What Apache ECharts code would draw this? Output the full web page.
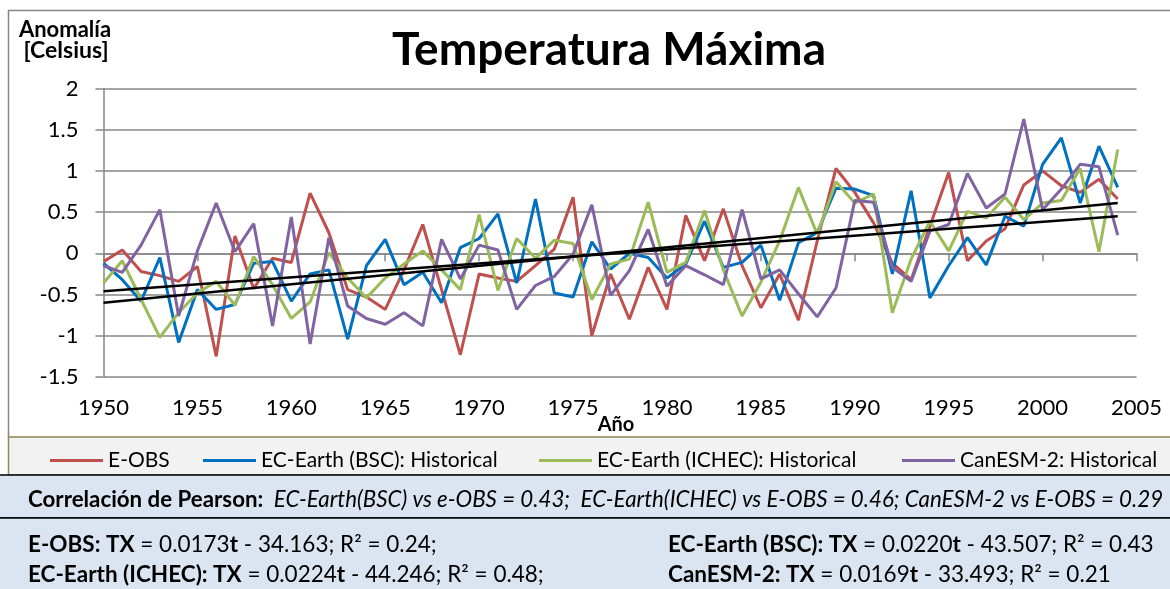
<!DOCTYPE html>
<html>
<head>
<meta charset="utf-8">
<script src="https://cdn.jsdelivr.net/npm/echarts@6/dist/echarts.min.js"></script>
<style>
  html, body { margin: 0; padding: 0; background: #fff; }
  #TmaxChart { width: 1170px; height: 589px; }
</style>
</head>
<body>
<div id="TmaxChart"></div>
<script>
// data
const years = [1950, 1951, 1952, 1953, 1954, 1955, 1956, 1957, 1958, 1959,
  1960, 1961, 1962, 1963, 1964, 1965, 1966, 1967, 1968, 1969,
  1970, 1971, 1972, 1973, 1974, 1975, 1976, 1977, 1978, 1979,
  1980, 1981, 1982, 1983, 1984, 1985, 1986, 1987, 1988, 1989,
  1990, 1991, 1992, 1993, 1994, 1995, 1996, 1997, 1998, 1999,
  2000, 2001, 2002, 2003, 2004];
const eobs = [-0.1, 0.04, -0.22, -0.27, -0.34, -0.16, -1.25, 0.21, -0.43, -0.06,
  -0.11, 0.73, 0.25, -0.44, -0.53, -0.68, -0.2, 0.35, -0.44, -1.23,
  -0.25, -0.3, -0.34, -0.15, 0.05, 0.68, -1.0, -0.25, -0.8, -0.17,
  -0.68, 0.46, -0.09, 0.54, -0.15, -0.66, -0.25, -0.81, 0.15, 1.03,
  0.74, 0.37, -0.12, -0.32, 0.33, 0.98, -0.09, 0.15, 0.3, 0.83,
  1.0, 0.82, 0.74, 0.9, 0.66];
const ecEarthBsc = [-0.12, -0.32, -0.58, -0.05, -1.08, -0.44, -0.68, -0.62, -0.12, -0.1,
  -0.58, -0.25, -0.2, -1.04, -0.15, 0.17, -0.38, -0.23, -0.6, 0.07,
  0.18, 0.48, -0.36, 0.66, -0.48, -0.53, 0.14, -0.19, 0.0, -0.05,
  -0.3, -0.13, 0.39, -0.17, -0.11, 0.1, -0.57, 0.13, 0.25, 0.79,
  0.78, 0.7, -0.25, 0.76, -0.54, -0.15, 0.19, -0.14, 0.45, 0.33,
  1.08, 1.4, 0.61, 1.3, 0.8];
const ecEarthIchec = [-0.36, -0.09, -0.56, -1.02, -0.72, -0.48, -0.34, -0.63, -0.04, -0.38,
  -0.79, -0.59, 0.01, -0.3, -0.54, -0.3, -0.13, 0.03, -0.2, -0.44,
  0.47, -0.45, 0.18, -0.06, 0.16, 0.12, -0.56, -0.13, -0.07, 0.62,
  -0.23, -0.11, 0.52, -0.2, -0.76, -0.35, 0.15, 0.8, 0.23, 0.87,
  0.61, 0.72, -0.72, -0.07, 0.39, 0.03, 0.51, 0.43, 0.68, 0.41,
  0.61, 0.64, 1.03, 0.02, 1.26];
const canEsm2 = [-0.15, -0.23, 0.1, 0.53, -0.76, 0.03, 0.61, 0.02, 0.36, -0.88,
  0.44, -1.1, 0.19, -0.64, -0.79, -0.86, -0.72, -0.88, 0.17, -0.31,
  0.1, 0.04, -0.68, -0.39, -0.28, -0.01, 0.59, -0.51, -0.21, 0.29,
  -0.4, -0.15, -0.26, -0.38, 0.53, -0.31, -0.2, -0.49, -0.77, -0.42,
  0.64, 0.62, -0.17, -0.34, 0.27, 0.35, 0.97, 0.55, 0.72, 1.63,
  0.53, 0.78, 1.08, 1.05, 0.22];
// trend lines, read at the first and last year
const trendYears = [1950, 2004];
const trendSteep = [-0.6, 0.61];
const trendShallow = [-0.46, 0.45];

const seriesNames = ["E-OBS", "EC-Earth (BSC): Historical", "EC-Earth (ICHEC): Historical", "CanESM-2: Historical"];
const seriesValues = [eobs, ecEarthBsc, ecEarthIchec, canEsm2];
const seriesColors = ["#C0504D", "#0070C0", "#9BBB59", "#8064A2"];
const legendLeft = [45, 198, 534, 897];

const FONT = "Lato, 'Noto Sans', sans-serif";
const zip = (xs, ys) => xs.map((x, i) => [x, ys[i]]);

const chart = echarts.init(document.getElementById("TmaxChart"));

const lineSeries = seriesNames.map((name, i) => ({
  name: name,
  type: "line",
  data: zip(years, seriesValues[i]),
  showSymbol: false,
  lineStyle: { color: seriesColors[i], width: 3 },
  itemStyle: { color: seriesColors[i] },
  z: 3,
}));

const trendSeries = [trendSteep, trendShallow].map((vals) => ({
  type: "line",
  data: zip(trendYears, vals),
  showSymbol: false,
  silent: true,
  lineStyle: { color: "#000", width: 2.5 },
  z: 4,
}));

// rich text styles for the boxes under the chart
const boxRich = (size) => ({
  b: { fontWeight: "bold", fontSize: size, fontFamily: FONT, fill: "#000" },
  i: { fontStyle: "italic", fontSize: size, fontFamily: FONT, fill: "#000" },
  n: { fontSize: size, fontFamily: FONT, fill: "#000" },
});

const options = {
  animation: false,
  grid: { left: 103.5, right: 33.5, top: 88.5, bottom: 212, containLabel: false },
  xAxis: {
    type: "value",
    min: 1950,
    max: 2005,
    interval: 5,
    axisLine: { lineStyle: { color: "#868686", width: 1.5 } },
    axisTick: { show: true, length: 8, lineStyle: { color: "#868686", width: 1.5 } },
    splitLine: { show: false },
    axisLabel: { color: "#000", fontSize: 22, fontFamily: FONT, margin: 20, formatter: (v) => String(v) },
  },
  yAxis: {
    type: "value",
    min: -1.5,
    max: 2,
    interval: 0.5,
    axisLine: { show: true, lineStyle: { color: "#868686", width: 1.5 } },
    axisTick: { show: true, length: 8, lineStyle: { color: "#868686", width: 1.5 } },
    splitLine: { show: true, lineStyle: { color: "#868686", width: 1.5 } },
    axisLabel: { color: "#000", fontSize: 22, fontFamily: FONT, margin: 25 },
  },
  legend: seriesNames.map((name, i) => ({
    data: [name],
    left: legendLeft[i],
    top: 445,
    icon: "rect",
    itemWidth: 53,
    itemHeight: 3,
    itemStyle: { color: seriesColors[i] },
    textStyle: { fontSize: 21, fontFamily: FONT, color: "#000" },
    selectedMode: false,
  })),
  graphic: [
    { type: "rect", shape: { x: 8.5, y: 10.5, width: 1170, height: 427 }, style: { fill: "none", stroke: "#868686", lineWidth: 1.5 } },
    { type: "rect", shape: { x: 8.5, y: 437, width: 1170, height: 38 }, style: { fill: "#F2F2F2", stroke: "#938953", lineWidth: 1.5 } },
    { type: "rect", shape: { x: -2, y: 475, width: 1180, height: 43 }, style: { fill: "#DBE5F1", stroke: "#000", lineWidth: 1.5 } },
    { type: "rect", shape: { x: -2, y: 518, width: 1180, height: 80 }, style: { fill: "#DBE5F1", stroke: "#000", lineWidth: 1.5 } },
    { type: "text", x: 609, y: 50, style: { text: "Temperatura Máxima", font: "bold 46px " + FONT, fill: "#000", textAlign: "center", textVerticalAlign: "middle" } },
    { type: "text", x: 65, y: 30, style: { text: "Anomalía", font: "bold 22px " + FONT, fill: "#000", textAlign: "center", textVerticalAlign: "middle" } },
    { type: "text", x: 66, y: 51, style: { text: "[Celsius]", font: "bold 23px " + FONT, fill: "#000", textAlign: "center", textVerticalAlign: "middle" } },
    { type: "text", x: 616, y: 425, z: 10, style: { text: "Año", font: "bold 20px " + FONT, fill: "#000", textAlign: "center", textVerticalAlign: "middle" } },
    {
      type: "text", x: 28, y: 500,
      style: {
        text: "{b|Correlación de Pearson:}{i|  EC-Earth(BSC) vs e-OBS = 0.43;  EC-Earth(ICHEC) vs E-OBS = 0.46; CanESM-2 vs E-OBS = 0.29}",
        textVerticalAlign: "middle",
        rich: boxRich(22.3),
      },
    },
    {
      type: "text", x: 28, y: 545,
      style: { text: "{b|E-OBS: TX}{n| = 0.0173}{b|t}{n| - 34.163; R² = 0.24;}", textVerticalAlign: "middle", rich: boxRich(22.5) },
    },
    {
      type: "text", x: 28, y: 575,
      style: { text: "{b|EC-Earth (ICHEC): TX}{n| = 0.0224}{b|t}{n| - 44.246; R² = 0.48;}", textVerticalAlign: "middle", rich: boxRich(22.5) },
    },
    {
      type: "text", x: 668, y: 545,
      style: { text: "{b|EC-Earth (BSC): TX}{n| = 0.0220}{b|t}{n| - 43.507; R² = 0.43}", textVerticalAlign: "middle", rich: boxRich(22.5) },
    },
    {
      type: "text", x: 668, y: 575,
      style: { text: "{b|CanESM-2: TX}{n| = 0.0169}{b|t}{n| - 33.493; R² = 0.21}", textVerticalAlign: "middle", rich: boxRich(22.5) },
    },
  ],
  series: lineSeries.concat(trendSeries),
};
chart.setOption(options);
</script>
</body>
</html>
